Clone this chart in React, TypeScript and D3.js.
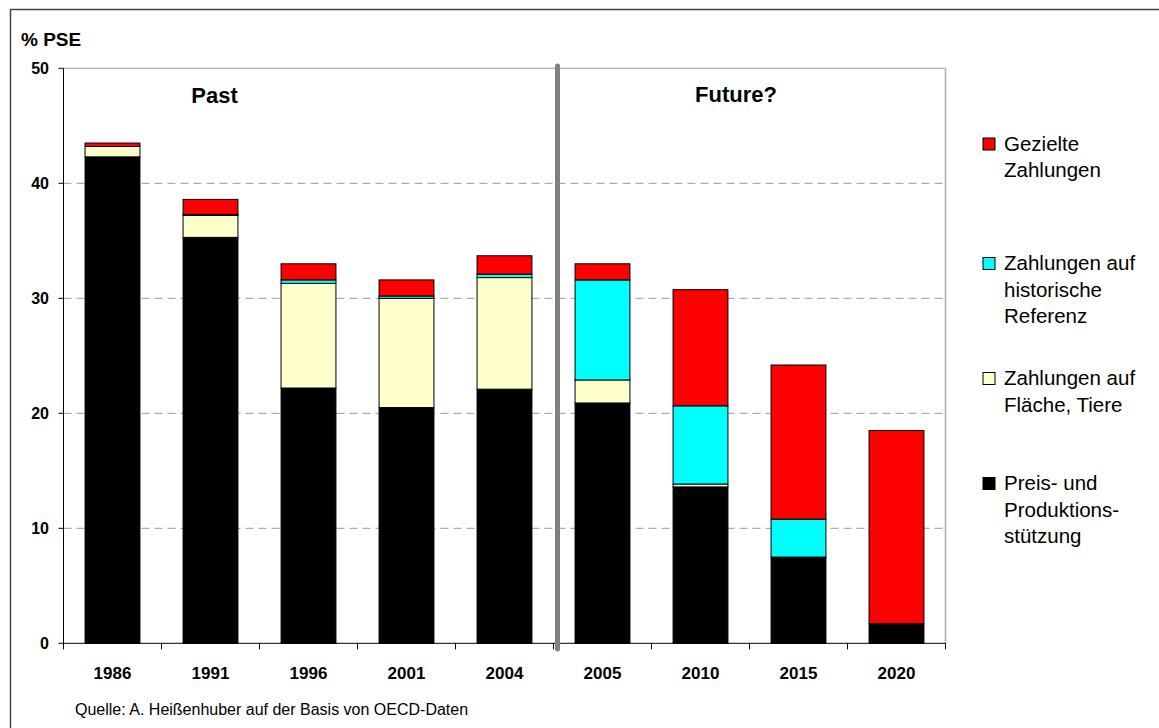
// @ts-nocheck
import React from 'react'
import * as d3 from 'd3'

const years = ['1986', '1991', '1996', '2001', '2004', '2005', '2010', '2015', '2020']
const preis = [42.3, 35.3, 22.2, 20.5, 22.1, 20.9, 13.6, 7.5, 1.7]
const flaeche = [0.9, 1.9, 9.1, 9.5, 9.7, 2.0, 0.25, 0, 0]
const historisch = [0, 0.1, 0.3, 0.2, 0.3, 8.7, 6.8, 3.3, 0]
const gezielt = [0.3, 1.3, 1.4, 1.4, 1.6, 1.4, 10.1, 13.4, 16.8]
const yTicks = [0, 10, 20, 30, 40, 50]

const seriesKeys = ['preis', 'flaeche', 'historisch', 'gezielt']
const colors = {
  preis: '#000000',
  flaeche: '#FFFFCC',
  historisch: '#00FFFF',
  gezielt: '#FF0000',
}
// legend top to bottom
const legend = [
  { key: 'gezielt', lines: ['Gezielte', 'Zahlungen'] },
  { key: 'historisch', lines: ['Zahlungen auf', 'historische', 'Referenz'] },
  { key: 'flaeche', lines: ['Zahlungen auf', 'Fläche, Tiere'] },
  { key: 'preis', lines: ['Preis- und', 'Produktions-', 'stützung'] },
]
const legendY = [150.5, 270, 385, 490]

const W = 1159
const H = 728
const left = 63.5
const right = 945.5
const top = 68.3
const bottom = 643.3
const font = 'Arial, "Liberation Sans", sans-serif'

const App = () => {
  const table = years.map((y, i) => ({
    year: y,
    preis: preis[i],
    flaeche: flaeche[i],
    historisch: historisch[i],
    gezielt: gezielt[i],
  }))
  const stacked = d3.stack().keys(seriesKeys)(table)

  const x = d3.scaleBand().domain(years).range([left, right]).paddingInner(0.44).paddingOuter(0.22)
  const y = d3.scaleLinear().domain([0, 50]).range([bottom, top])
  const step = x.step()
  const gap = step - x.bandwidth()
  const boundaries = d3.range(years.length + 1).map((i) => left + i * step)
  const dividerX = x('2005') - gap / 2 + 4

  return (
    <svg width={W} height={H} style={{ display: 'block', position: 'absolute', left: 0, top: 0 }}>
      <rect x={0} y={0} width={W} height={H} fill="#fff" />
      {/* frame */}
      <line x1={10} y1={9.5} x2={W} y2={9.5} stroke="#444" strokeWidth={1.5} />
      <line x1={10.5} y1={9} x2={10.5} y2={H} stroke="#444" strokeWidth={1.5} />

      {/* grid */}
      {yTicks
        .filter((t) => t > 0 && t < 50)
        .map((t) => (
          <line key={t} x1={left} x2={right} y1={y(t)} y2={y(t)} stroke="#999" strokeDasharray="8,5" />
        ))}
      <line x1={left} x2={right} y1={y(50)} y2={y(50)} stroke="#999" />
      <line x1={right} x2={right} y1={y(50)} y2={y(0)} stroke="#aaa" strokeWidth={1.5} />

      {/* bars */}
      {stacked.map((s) => (
        <g key={s.key}>
          {s.map((d, i) =>
            d[1] - d[0] > 0 ? (
              <rect
                key={i}
                x={x(years[i])}
                y={y(d[1])}
                width={x.bandwidth()}
                height={y(d[0]) - y(d[1])}
                fill={colors[s.key]}
                stroke="#000"
                strokeWidth={1}
              />
            ) : null
          )}
        </g>
      ))}

      {/* axes */}
      <line x1={left} x2={left} y1={y(50)} y2={y(0)} stroke="#000" />
      <line x1={left} x2={right} y1={y(0)} y2={y(0)} stroke="#000" />
      {yTicks.map((t) => (
        <g key={t}>
          <line x1={left - 5} x2={left} y1={y(t)} y2={y(t)} stroke="#000" />
          <text
            x={49}
            y={y(t)}
            dy="0.36em"
            textAnchor="end"
            fontFamily={font}
            fontWeight="bold"
            fontSize={16}
          >
            {t}
          </text>
        </g>
      ))}
      {boundaries.map((b, i) => (
        <line key={i} x1={b} x2={b} y1={y(0)} y2={y(0) + 6} stroke="#000" />
      ))}
      {years.map((yr) => (
        <text
          key={yr}
          x={x(yr) + x.bandwidth() / 2}
          y={679}
          textAnchor="middle"
          fontFamily={font}
          fontWeight="bold"
          fontSize={17}
        >
          {yr}
        </text>
      ))}

      {/* divider */}
      <line x1={dividerX} x2={dividerX} y1={66} y2={649} stroke="#808080" strokeWidth={5} strokeLinecap="round" />

      <text x={214.5} y={103} textAnchor="middle" fontFamily={font} fontWeight="bold" fontSize={22}>
        Past
      </text>
      <text x={736} y={102} textAnchor="middle" fontFamily={font} fontWeight="bold" fontSize={22}>
        Future?
      </text>

      <text x={21} y={46} fontFamily={font} fontWeight="bold" fontSize={19}>
        % PSE
      </text>

      {/* legend */}
      {legend.map((l, i) => (
        <g key={l.key}>
          <rect x={983} y={legendY[i] - 12.5} width={12} height={12} fill={colors[l.key]} stroke="#000" />
          <text fontFamily={font} fontSize={20.5}>
            {l.lines.map((ln, j) => (
              <tspan key={j} x={1004} y={legendY[i] + j * 26.5}>
                {ln}
              </tspan>
            ))}
          </text>
        </g>
      ))}

      <text x={75} y={715} fontFamily={font} fontSize={16}>
        Quelle: A. Heißenhuber auf der Basis von OECD-Daten
      </text>
    </svg>
  )
}

export default App
